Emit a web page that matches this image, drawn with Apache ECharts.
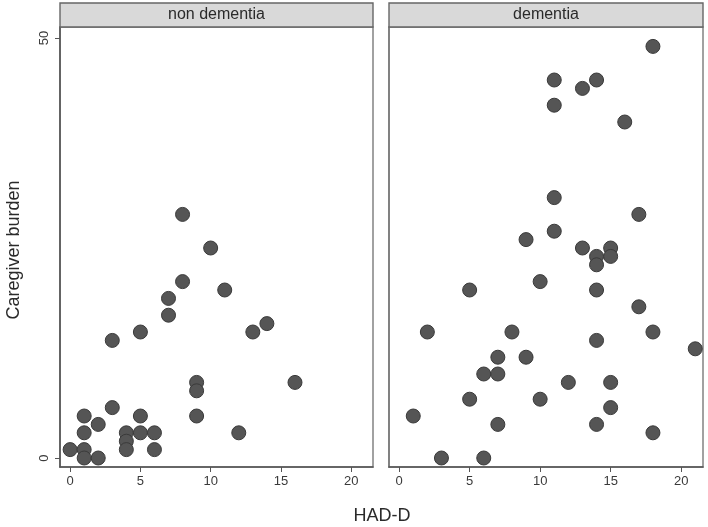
<!DOCTYPE html>
<html>
<head>
<meta charset="utf-8">
<script src="https://cdn.jsdelivr.net/npm/echarts@6/dist/echarts.min.js"></script>
<style>html,body{margin:0;padding:0;background:#fff}#c{width:708px;height:527px}</style>
</head>
<body>
<div id="c"></div>
<script>
const panelTitles = ['non dementia', 'dementia'];
const xTicks = [0, 5, 10, 15, 20];
const yTicks = [0, 50];
const xLabel = 'HAD-D';
const yLabel = 'Caregiver burden';

const nonDementiaHADD = [0,1,1,1,1,2,2,3,3,4,4,4,5,5,5,6,6,7,7,8,8,9,9,9,10,11,12,13,14,16];
const nonDementiaBurden = [1,5,3,1,0,4,0,6,14,3,2,1,5,3,15,3,1,19,17,29,21,9,8,5,25,20,3,15,16,9];

const dementiaHADD = [18,11,13,14,11,16,11,17,11,9,13,14,14,15,15,10,5,14,17,2,8,14,18,21,7,9,6,7,12,15,5,10,15,1,7,14,18,3,6];
const dementiaBurden = [49,45,44,45,42,40,31,29,27,26,25,24,23,25,24,21,20,20,18,15,15,14,15,13,12,12,10,10,9,9,7,7,6,5,4,4,3,0,0];

const pair = (xs, ys) => xs.map((x, i) => [x, ys[i]]);

const chart = echarts.init(document.getElementById('c'), null, {renderer: 'canvas'});
const grids = [
  {left: 60, top: 27, width: 313, height: 440},
  {left: 389, top: 27, width: 314, height: 440}
];
const frame = '#7a7a7a';
const txt = '#3a3a3a';

function xAxis(i) {
  return {
    type: 'value', gridIndex: i, min: -0.72, max: 21.55,
    axisLine: {show: true, onZero: false, lineStyle: {color: '#555', width: 1.6}},
    axisTick: {show: true, length: 5, lineStyle: {color: '#555'}, customValues: xTicks},
    axisLabel: {customValues: xTicks, color: txt, fontSize: 13, fontFamily: 'Liberation Sans', margin: 8},
    splitLine: {show: false}
  };
}
function yAxis(i) {
  return {
    type: 'value', gridIndex: i, min: -1.07, max: 51.31,
    axisLine: {show: true, onZero: false, lineStyle: {color: i === 0 ? '#555' : frame, width: 1.6}},
    axisTick: {show: i === 0, length: 5, lineStyle: {color: '#555'}, customValues: yTicks},
    axisLabel: {show: i === 0, customValues: yTicks, rotate: 90, color: txt, fontSize: 13, fontFamily: 'Liberation Sans', margin: 9},
    splitLine: {show: false}
  };
}

const graphics = [];
grids.forEach((g, i) => {
  graphics.push({
    type: 'rect', shape: {x: g.left, y: 3, width: g.width, height: g.top - 3},
    style: {fill: '#d9d9d9', stroke: '#666', lineWidth: 1.4}, z: 10
  });
  graphics.push({
    type: 'text', x: g.left + g.width / 2, y: 3 + (g.top - 3) / 2,
    style: {text: panelTitles[i], fill: '#2a2a2a', font: '16px "Liberation Sans", Arial', align: 'center', verticalAlign: 'middle'}, z: 11
  });
});
graphics.push({
  type: 'text', x: 382, y: 516,
  style: {text: xLabel, fill: '#2a2a2a', font: '18px "Liberation Sans", Arial', align: 'center', verticalAlign: 'middle'}
});
graphics.push({
  type: 'text', x: 14, y: 250, rotation: Math.PI / 2,
  style: {text: yLabel, fill: '#2a2a2a', font: '18px "Liberation Sans", Arial', align: 'center', verticalAlign: 'middle'}
});

const markerStyle = {color: '#555555', borderColor: '#3a3a3a', borderWidth: 1, opacity: 1};

chart.setOption({
  animation: false,
  backgroundColor: '#ffffff',
  grid: grids.map(g => Object.assign({show: true, borderColor: frame, borderWidth: 1.4, backgroundColor: '#fff'}, g)),
  xAxis: [xAxis(0), xAxis(1)],
  yAxis: [yAxis(0), yAxis(1)],
  graphic: graphics,
  series: [
    {type: 'scatter', xAxisIndex: 0, yAxisIndex: 0, symbolSize: 14, itemStyle: markerStyle, data: pair(nonDementiaHADD, nonDementiaBurden)},
    {type: 'scatter', xAxisIndex: 1, yAxisIndex: 1, symbolSize: 14, itemStyle: markerStyle, data: pair(dementiaHADD, dementiaBurden)}
  ]
});
</script>
</body>
</html>
